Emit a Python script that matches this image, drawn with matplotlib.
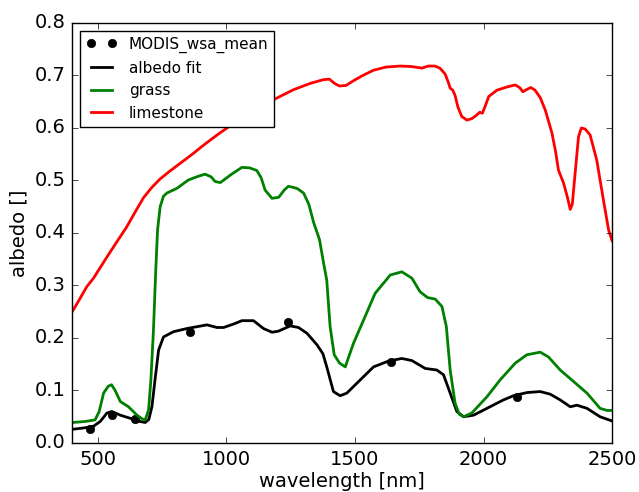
import matplotlib
matplotlib.use("Agg")
import matplotlib.pyplot as plt

plt.style.use("classic")

modis_wl = [469, 555, 645, 858, 1240, 1640, 2130]
modis_val = [0.026, 0.053, 0.046, 0.211, 0.231, 0.155, 0.088]

fit_wl = [400, 450, 483, 509, 535, 554, 587, 626, 664, 684, 698, 710, 722, 736, 755, 794, 846, 924, 963, 989,
          1030, 1060, 1105, 1144, 1177, 1202, 1248, 1280, 1313, 1352, 1375, 1390, 1416, 1442, 1468, 1520, 1572,
          1630, 1682, 1721, 1773, 1818, 1844, 1870, 1896, 1922, 1961, 2013, 2077, 2116, 2168, 2220, 2259, 2298,
          2337, 2363, 2402, 2453, 2499]
fit_val = [0.026, 0.029, 0.032, 0.041, 0.057, 0.060, 0.053, 0.047, 0.041, 0.039, 0.045, 0.069, 0.120, 0.177,
           0.202, 0.212, 0.218, 0.225, 0.220, 0.220, 0.227, 0.233, 0.233, 0.218, 0.211, 0.213, 0.223, 0.220,
           0.209, 0.187, 0.170, 0.145, 0.098, 0.090, 0.095, 0.120, 0.145, 0.156, 0.161, 0.157, 0.142, 0.139,
           0.130, 0.095, 0.060, 0.050, 0.053, 0.066, 0.082, 0.090, 0.096, 0.098, 0.093, 0.082, 0.069, 0.072,
           0.066, 0.050, 0.042]

grass_wl = [400, 450, 489, 505, 522, 540, 553, 567, 587, 619, 652, 672, 684, 697, 706, 716, 725, 732, 742, 755,
            768, 807, 852, 890, 917, 940, 956, 976, 1020, 1060, 1090, 1118, 1135, 1150, 1177, 1203, 1225, 1241,
            1274, 1300, 1320, 1339, 1362, 1375, 1390, 1403, 1419, 1440, 1462, 1494, 1533, 1578, 1637, 1682, 1721,
            1753, 1782, 1812, 1838, 1855, 1870, 1889, 1905, 1922, 1954, 2013, 2064, 2123, 2168, 2220, 2252, 2298,
            2350, 2402, 2453, 2480, 2500]
grass_val = [0.039, 0.041, 0.044, 0.060, 0.095, 0.108, 0.111, 0.100, 0.079, 0.069, 0.053, 0.046, 0.044, 0.063,
             0.120, 0.215, 0.330, 0.406, 0.450, 0.470, 0.476, 0.485, 0.501, 0.508, 0.512, 0.507, 0.498, 0.496,
             0.512, 0.525, 0.524, 0.519, 0.505, 0.482, 0.466, 0.468, 0.482, 0.489, 0.485, 0.476, 0.455, 0.420,
             0.387, 0.350, 0.310, 0.222, 0.168, 0.152, 0.145, 0.190, 0.234, 0.285, 0.320, 0.326, 0.314, 0.288,
             0.277, 0.274, 0.260, 0.222, 0.139, 0.076, 0.055, 0.050, 0.057, 0.088, 0.120, 0.152, 0.168, 0.173,
             0.164, 0.139, 0.117, 0.095, 0.066, 0.062, 0.062]

lime_wl = [400, 430, 457, 483, 510, 548, 580, 610, 645, 677, 710, 742, 775, 807, 840, 872, 905, 937, 970, 1002,
           1065, 1131, 1196, 1261, 1326, 1377, 1400, 1423, 1440, 1465, 1494, 1530, 1572, 1620, 1676, 1720, 1760,
           1785, 1810, 1830, 1850, 1862, 1870, 1880, 1889, 1900, 1915, 1935, 1955, 1974, 1985, 1995, 2005, 2020,
           2052, 2090, 2123, 2140, 2153, 2170, 2184, 2200, 2220, 2240, 2266, 2280, 2291, 2311, 2325, 2337, 2345,
           2356, 2369, 2380, 2395, 2414, 2440, 2466, 2486, 2500]
lime_val = [0.250, 0.275, 0.298, 0.314, 0.335, 0.364, 0.388, 0.410, 0.440, 0.467, 0.487, 0.503, 0.516, 0.528,
            0.540, 0.552, 0.565, 0.577, 0.589, 0.600, 0.622, 0.641, 0.657, 0.673, 0.685, 0.692, 0.693, 0.684,
            0.680, 0.681, 0.690, 0.700, 0.710, 0.716, 0.718, 0.717, 0.714, 0.718, 0.718, 0.714, 0.703, 0.688,
            0.676, 0.672, 0.662, 0.640, 0.622, 0.615, 0.618, 0.625, 0.630, 0.628, 0.640, 0.660, 0.672, 0.678,
            0.682, 0.677, 0.669, 0.674, 0.677, 0.672, 0.658, 0.634, 0.590, 0.555, 0.520, 0.495, 0.470, 0.445,
            0.455, 0.514, 0.583, 0.600, 0.598, 0.587, 0.539, 0.463, 0.406, 0.385]

fig = plt.figure(figsize=(6.39, 4.92), dpi=100, facecolor="white")
ax = fig.add_axes([0.113, 0.0996, 0.845, 0.8537])

ax.plot(modis_wl, modis_val, "ko", markersize=6, label="MODIS_wsa_mean")
ax.plot(fit_wl, fit_val, "k-", lw=2, label="albedo fit")
ax.plot(grass_wl, grass_val, "g-", lw=2, label="grass")
ax.plot(lime_wl, lime_val, "r-", lw=2, label="limestone")

ax.set_xlim(400, 2500)
ax.set_ylim(0, 0.8)
ax.set_xticks([500, 1000, 1500, 2000, 2500])
ax.set_yticks([0.0, 0.1, 0.2, 0.3, 0.4, 0.5, 0.6, 0.7, 0.8])
ax.tick_params(labelsize=14, pad=5)
ax.set_xlabel("wavelength [nm]", fontsize=14, labelpad=2)
ax.set_ylabel("albedo []", fontsize=14, labelpad=4)

ax.legend(loc="upper left", fontsize=11, numpoints=2, fancybox=False)

fig.savefig("out.png", dpi=100, facecolor="white")
